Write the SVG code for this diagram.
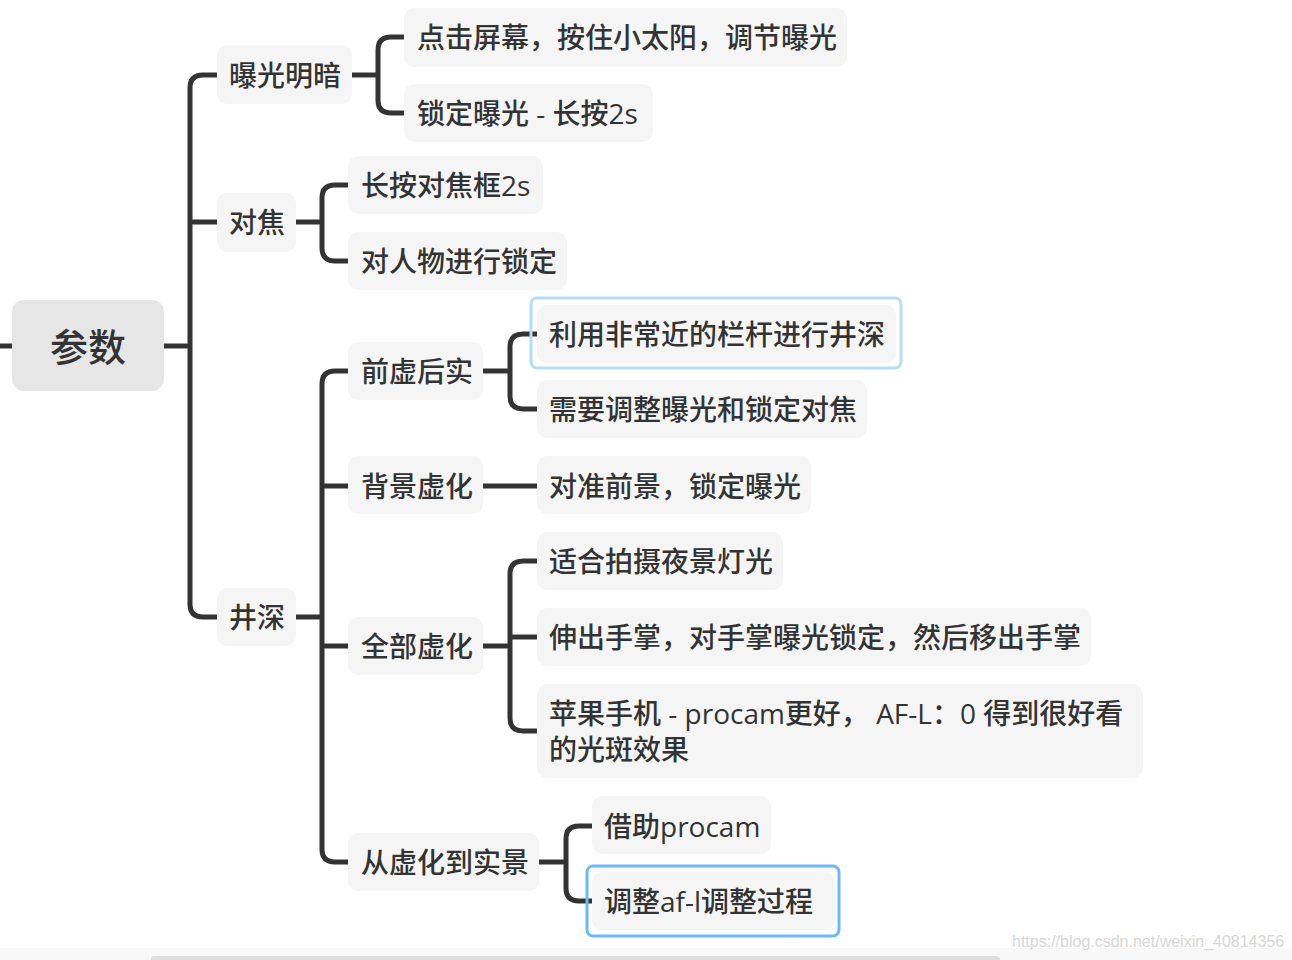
<svg xmlns="http://www.w3.org/2000/svg" width="1292" height="960" viewBox="0 0 1292 960">
<style>
.n{fill:#f5f5f5}
.t{font-family:"Open Sans","Noto Sans CJK SC",sans-serif;font-size:28px;font-weight:500;fill:#333;dominant-baseline:central}
.c{fill:none;stroke:#333;stroke-width:5}
.sel1{fill:none;stroke:#b6dcfb;stroke-width:3}
.sel2{fill:none;stroke:#6fb8f7;stroke-width:3}
</style>
<rect width="1292" height="960" fill="#ffffff"/>
<g id="connectors">
<path class="c" d="M0,346 H12"/>
<path class="c" d="M164,346 H190"/>
<path class="c" d="M190,346 V88 Q190,75 203,75 H217"/>
<path class="c" d="M190,222 H217"/>
<path class="c" d="M190,346 V604 Q190,617 203,617 H217"/>
<path class="c" d="M352,75 H378"/>
<path class="c" d="M378,75 V50 Q378,37 391,37 H404"/>
<path class="c" d="M378,75 V100 Q378,113 391,113 H404"/>
<path class="c" d="M296,222 H322"/>
<path class="c" d="M322,222 V198 Q322,185 335,185 H348"/>
<path class="c" d="M322,222 V248 Q322,261 335,261 H348"/>
<path class="c" d="M296,617 H322"/>
<path class="c" d="M322,617 V384 Q322,371 335,371 H348"/>
<path class="c" d="M322,486 H348"/>
<path class="c" d="M322,646 H348"/>
<path class="c" d="M322,617 V849 Q322,862 335,862 H348"/>
<path class="c" d="M483,371 H510"/>
<path class="c" d="M510,371 V347 Q510,334 523,334 H537"/>
<path class="c" d="M510,371 V396 Q510,409 523,409 H537"/>
<path class="c" d="M483,486 H537"/>
<path class="c" d="M483,646 H510"/>
<path class="c" d="M510,646 V574 Q510,561 523,561 H537"/>
<path class="c" d="M510,637 H537"/>
<path class="c" d="M510,646 V718 Q510,731 523,731 H537"/>
<path class="c" d="M539,862 H566"/>
<path class="c" d="M566,862 V839 Q566,826 579,826 H592"/>
<path class="c" d="M566,862 V888 Q566,901 579,901 H592"/>
</g>
<g id="root">
<rect x="12" y="300" width="152" height="91" rx="12" fill="#e6e6e6"/>
<text x="88" y="346" text-anchor="middle" class="t" style="font-size:38px">参数</text>
</g>
<g id="n-exposure">
<rect class="n" x="217" y="45" width="135" height="59" rx="10"/>
<text class="t" x="229" y="75">曝光明暗</text>
</g>
<g id="n-exp1">
<rect class="n" x="404" y="8" width="443" height="59" rx="10"/>
<text class="t" x="417" y="37">点击屏幕，按住小太阳，调节曝光</text>
</g>
<g id="n-exp2">
<rect class="n" x="404" y="84" width="249" height="58" rx="10"/>
<text class="t" x="417" y="113">锁定曝光 - 长按2s</text>
</g>
<g id="n-focus">
<rect class="n" x="217" y="193" width="79" height="59" rx="10"/>
<text class="t" x="229" y="222">对焦</text>
</g>
<g id="n-focus1">
<rect class="n" x="348" y="156" width="195" height="58" rx="10"/>
<text class="t" x="361" y="185">长按对焦框2s</text>
</g>
<g id="n-focus2">
<rect class="n" x="348" y="232" width="219" height="58" rx="10"/>
<text class="t" x="361" y="261">对人物进行锁定</text>
</g>
<g id="n-dof">
<rect class="n" x="217" y="588" width="79" height="58" rx="10"/>
<text class="t" x="229" y="617">井深</text>
</g>
<g id="n-front">
<rect class="n" x="348" y="342" width="135" height="58" rx="10"/>
<text class="t" x="361" y="371">前虚后实</text>
</g>
<g id="n-front1">
<rect class="n" x="537" y="305" width="359" height="58" rx="10"/>
<rect class="sel1" x="531" y="298" width="370" height="70" rx="6"/>
<text class="t" x="549" y="334">利用非常近的栏杆进行井深</text>
</g>
<g id="n-front2">
<rect class="n" x="537" y="380" width="330" height="58" rx="10"/>
<text class="t" x="549" y="409">需要调整曝光和锁定对焦</text>
</g>
<g id="n-bg">
<rect class="n" x="348" y="456" width="135" height="58" rx="10"/>
<text class="t" x="361" y="486">背景虚化</text>
</g>
<g id="n-bg1">
<rect class="n" x="537" y="456" width="274" height="58" rx="10"/>
<text class="t" x="549" y="486">对准前景，锁定曝光</text>
</g>
<g id="n-all">
<rect class="n" x="348" y="617" width="135" height="58" rx="10"/>
<text class="t" x="361" y="646">全部虚化</text>
</g>
<g id="n-all1">
<rect class="n" x="537" y="532" width="246" height="58" rx="10"/>
<text class="t" x="549" y="561">适合拍摄夜景灯光</text>
</g>
<g id="n-all2">
<rect class="n" x="537" y="608" width="554" height="58" rx="10"/>
<text class="t" x="549" y="637">伸出手掌，对手掌曝光锁定，然后移出手掌</text>
</g>
<g id="n-all3">
<rect class="n" x="537" y="684" width="606" height="94" rx="10"/>
<text class="t" x="549" y="713">苹果手机 - procam更好， AF-L：0 得到很好看</text>
<text class="t" x="549" y="749">的光斑效果</text>
</g>
<g id="n-blur">
<rect class="n" x="348" y="833" width="191" height="58" rx="10"/>
<text class="t" x="361" y="862">从虚化到实景</text>
</g>
<g id="n-blur1">
<rect class="n" x="592" y="796" width="179" height="58" rx="10"/>
<text class="t" x="604" y="826">借助procam</text>
</g>
<g id="n-blur2">
<rect class="n" x="592" y="872" width="243" height="58" rx="10"/>
<rect class="sel2" x="587" y="866" width="252" height="70" rx="6"/>
<text class="t" x="604" y="901">调整af-l调整过程</text>
</g>
<g id="footer">
<rect x="0" y="948" width="1292" height="12" fill="#f8f8f8"/>
<rect x="151" y="956" width="849" height="6" rx="3" fill="#dedede"/>
<text x="1012" y="947" style="font-family:'Liberation Sans',Arial,sans-serif;font-size:16px;fill:#d6d6d6">https://blog.csdn.net/weixin_40814356</text>
</g>
</svg>
